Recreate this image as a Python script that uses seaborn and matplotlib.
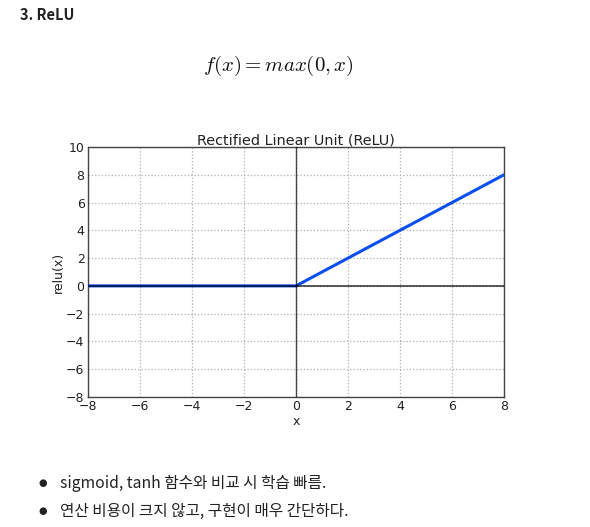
import matplotlib
matplotlib.use("Agg")
import matplotlib.pyplot as plt
import seaborn as sns
import pandas as pd

# data
x_vals = [-8, 0, 8]
relu_vals = [0, 0, 8]
x_ticks = [-8, -6, -4, -2, 0, 2, 4, 6, 8]
y_ticks = [-8, -6, -4, -2, 0, 2, 4, 6, 8, 10]
title = "Rectified Linear Unit (ReLU)"
header = "3. ReLU"
formula = r"$f(x) = max(0, x)$"
bullets = ["sigmoid, tanh 함수와 비교 시 학습 빠름.",
           "연산 비용이 크지 않고, 구현이 매우 간단하다."]

sns.set_theme(style="white")
plt.rcParams['font.family'] = ['DejaVu Sans']
plt.rcParams['mathtext.fontset'] = 'cm'

fig = plt.figure(figsize=(5.9, 5.27), dpi=100)
ax = fig.add_axes([88/590, 1-397/527, (504-88)/590, (397-147)/527])

df = pd.DataFrame({"x": x_vals, "relu(x)": relu_vals})
sns.lineplot(data=df, x="x", y="relu(x)", ax=ax, color="#0a4ff0", lw=2.2, zorder=3)
ax.axhline(0, color="black", lw=1.2, alpha=0.75, zorder=4)
ax.axvline(0, color="black", lw=1, alpha=0.7, zorder=4)

ax.set_xlim(-8, 8)
ax.set_ylim(-8, 10)
ax.set_xticks(x_ticks)
ax.set_yticks(y_ticks)
ax.set_xticklabels([f"{t}".replace("-", "\u2212") for t in x_ticks])
ax.set_yticklabels([f"{t}".replace("-", "\u2212") for t in y_ticks])
ax.grid(True, linestyle=":", color="#b0b0b0", lw=0.9)
ax.tick_params(direction="in", length=0, labelsize=9, colors="#222222", pad=2.5)
for s in ax.spines.values():
    s.set_color("#444444")
    s.set_linewidth(1)
ax.set_title(title, fontsize=10.4, pad=2, color="#222222")
ax.set_xlabel("x", fontsize=9, labelpad=1, color="#222222")
ax.set_ylabel("relu(x)", fontsize=9, labelpad=1, color="#222222")

fig.text(20/590, 1-15/527, header, fontsize=10.5, fontweight="bold",
         family=["Noto Sans CJK KR", "DejaVu Sans"], va="center", ha="left", color="#222222")
fig.text(278/590, 1-66/527, formula, fontsize=15, va="center", ha="center", color="#111111")

for i, b in enumerate(bullets):
    yy = 1 - (483 + i * 28) / 527
    fig.text(43/590, yy, "\u25CF", fontsize=7, va="center", ha="center", color="#222222",
             family=["DejaVu Sans"])
    fig.text(60/590, yy, b, fontsize=11.3, va="center", ha="left", color="#222222",
             family=["Noto Sans CJK KR", "DejaVu Sans"])

fig.savefig("out.png", dpi=100)
